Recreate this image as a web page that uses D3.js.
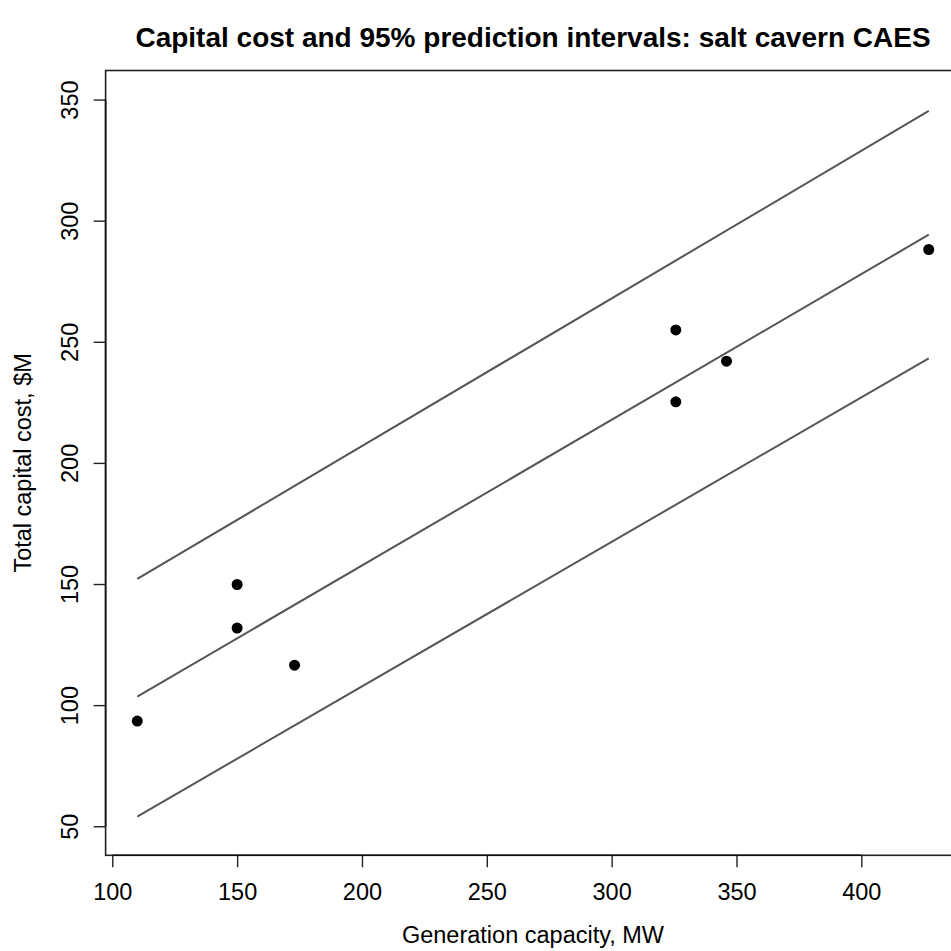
<!DOCTYPE html>
<html>
<head>
<meta charset="utf-8">
<script src="https://cdn.jsdelivr.net/npm/d3@7"></script>
<style>
html,body{margin:0;padding:0;background:#fff;overflow:hidden;}
text{font-family:"Liberation Sans",Arial,Helvetica,sans-serif;fill:#000;}
</style>
</head>
<body>
<script>
// Observed data: generation capacity (MW) vs total capital cost ($M)
const capacityMW = [110, 150, 150, 173, 325.7, 325.7, 346, 427];
const costM      = [93.4, 149.8, 131.8, 116.5, 254.9, 225.2, 242, 288.1];
// Fitted line and 95% prediction interval endpoints
const lineX     = [110, 427];
const fitY      = [103.5, 294.2];
const upperY    = [152.1, 345.3];
const lowerY    = [54.0, 243.2];
const xTicks = [100, 150, 200, 250, 300, 350, 400];
const yTicks = [50, 100, 150, 200, 250, 300, 350];
const yLim = [50, 350];

const W = 951, H = 951;
const svg = d3.select("body").append("svg").attr("width", W).attr("height", H);

const xmin = d3.min(capacityMW), xmax = d3.max(capacityMW);
const xpad = 0.04 * (xmax - xmin), ypad = 0.04 * (yLim[1] - yLim[0]);
const x = d3.scaleLinear().domain([xmin - xpad, xmax + xpad]).range([105.6, 960.4]);
const y = d3.scaleLinear().domain([yLim[0] - ypad, yLim[1] + ypad]).range([855.3, 70.5]);

const fs = 23.5;

// plot box
svg.append("rect")
  .attr("x", x.range()[0]).attr("y", y.range()[1])
  .attr("width", x.range()[1] - x.range()[0])
  .attr("height", y.range()[0] - y.range()[1])
  .attr("fill", "none").attr("stroke", "#222").attr("stroke-width", 1.6);

// x axis
const xAxis = d3.axisBottom(x).tickValues(xTicks).tickSize(12).tickPadding(16).tickFormat(d3.format("d"));
const gx = svg.append("g").attr("transform", `translate(0,${y.range()[0]})`).call(xAxis);
gx.select(".domain").attr("d", `M${x(xTicks[0])},0H${x(xTicks[xTicks.length-1])}`).attr("stroke", "#111").attr("stroke-width", 1.6);
gx.selectAll(".tick line").attr("stroke", "#222").attr("stroke-width", 1.4);
gx.selectAll(".tick text").attr("font-size", fs).attr("font-family", "Liberation Sans, Arial, sans-serif").attr("fill", "#111");

// y axis
const yAxis = d3.axisLeft(y).tickValues(yTicks).tickSize(12).tickFormat(d3.format("d"));
const gy = svg.append("g").attr("transform", `translate(${x.range()[0]},0)`).call(yAxis);
gy.select(".domain").attr("d", `M0,${y(yTicks[0])}V${y(yTicks[yTicks.length-1])}`).attr("stroke", "#111").attr("stroke-width", 1.6);
gy.selectAll(".tick line").attr("stroke", "#222").attr("stroke-width", 1.4);
gy.selectAll(".tick text")
  .attr("font-size", fs).attr("font-family", "Liberation Sans, Arial, sans-serif").attr("fill", "#111")
  .attr("x", null).attr("dy", null)
  .attr("text-anchor", "middle")
  .attr("transform", "translate(-28,0) rotate(-90)");

// lines
const lineGen = d3.line().x(d => x(d[0])).y(d => y(d[1]));
[upperY, fitY, lowerY].forEach(arr => {
  svg.append("path")
    .datum(lineX.map((v, i) => [v, arr[i]]))
    .attr("d", lineGen)
    .attr("fill", "none").attr("stroke", "#555").attr("stroke-width", 2);
});

// points
svg.append("g").selectAll("circle")
  .data(capacityMW.map((v, i) => [v, costM[i]]))
  .join("circle")
  .attr("cx", d => x(d[0])).attr("cy", d => y(d[1]))
  .attr("r", 5.5).attr("fill", "#000");

// titles
const cx = (x.range()[0] + x.range()[1]) / 2;
svg.append("text").attr("x", cx).attr("y", 47).attr("text-anchor", "middle")
  .attr("font-size", 28).attr("font-weight", "bold")
  .text("Capital cost and 95% prediction intervals: salt cavern CAES");
svg.append("text").attr("x", cx).attr("y", 943).attr("text-anchor", "middle")
  .attr("font-size", fs).attr("fill", "#111")
  .text("Generation capacity, MW");
const cy = (y.range()[0] + y.range()[1]) / 2;
svg.append("text").attr("transform", `translate(31,${cy}) rotate(-90)`).attr("text-anchor", "middle")
  .attr("font-size", fs).attr("fill", "#111")
  .text("Total capital cost, $M");
</script>
</body>
</html>
